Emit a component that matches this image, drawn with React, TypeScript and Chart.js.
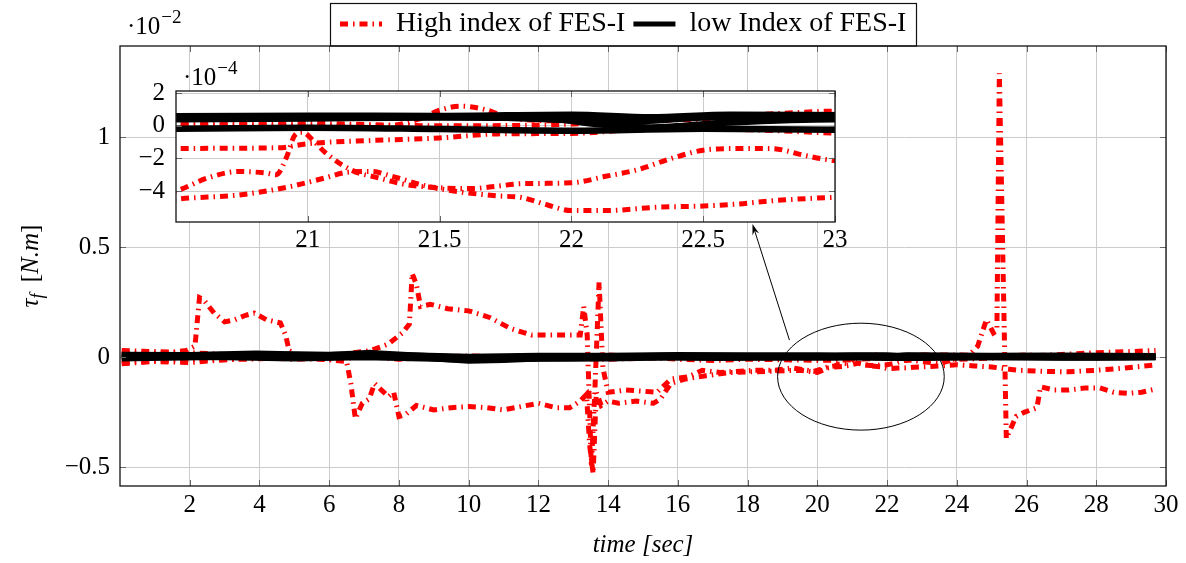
import React, { useEffect, useRef } from 'react';
import { Chart, registerables } from 'chart.js';
Chart.register(...registerables);

// ---------- text / ticks ----------
const FONT = '"Liberation Serif", "Times New Roman", serif';
const LEGEND_LABELS = ['High index of FES-I', 'low Index of FES-I'];
const X_TITLE = 'time [sec]';
const Y_TITLE_PARTS = [
  { t: '\u03c4', italic: true, size: 25, dy: 0 },
  { t: 'f', italic: true, size: 18, dy: 5 },
  { t: '\u2009 [', italic: false, size: 25, dy: 0 },
  { t: 'N.m', italic: true, size: 25, dy: 0 },
  { t: ']', italic: false, size: 25, dy: 0 },
];
const X_TICKS = [2, 4, 6, 8, 10, 12, 14, 16, 18, 20, 22, 24, 26, 28, 30];
const Y_TICKS = [-0.5, 0, 0.5, 1];
const INSET_X_TICKS = [21, 21.5, 22, 22.5, 23];
const INSET_Y_TICKS = [-4, -2, 0, 2];
const MAIN_EXP = -2;
const INSET_EXP = -4;
const INSET_FACTOR = 100; // values are in 10^-2, inset axis in 10^-4

// ---------- data (time [s], tau_f in 10^-2 N.m) ----------
const HIGH_1 = [
  [0.05, 0.02], [0.7, 0.015], [1.4, 0.02], [1.9, 0.03], [2.15, 0.05], [2.28, 0.27], [2.4, 0.26], [2.7, 0.2],
  [3.0, 0.16], [3.3, 0.17], [3.6, 0.19], [3.85, 0.2], [4.2, 0.17], [4.6, 0.155], [4.75, 0.1], [4.85, 0.03],
  [5.1, 0.01], [5.6, 0.005], [6.2, 0.01], [6.7, 0.02], [7.2, 0.03], [7.7, 0.06], [8.1, 0.11], [8.3, 0.15],
  [8.38, 0.38], [8.5, 0.33], [8.62, 0.23], [8.9, 0.24], [9.4, 0.22], [10.0, 0.21], [10.6, 0.18], [11.2, 0.13],
  [11.8, 0.1], [12.4, 0.1], [13.0, 0.1], [13.2, 0.1], [13.3, 0.23], [13.4, 0.1], [13.52, -0.5], [13.62, -0.15],
  [13.74, 0.34], [13.85, -0.05], [14.0, -0.16], [14.5, -0.15], [15.0, -0.155], [15.4, -0.16], [15.8, -0.1],
  [16.3, -0.09], [16.7, -0.06], [17.2, -0.07], [18.2, -0.06], [18.8, -0.06], [19.3, -0.05], [19.9, -0.065],
  [20.3, -0.045], [20.5, -0.04], [20.62, -0.032], [20.74, -0.028], [20.84, -0.029], [20.88, -0.03],
  [20.92, -0.019], [20.95, -0.006], [20.98, -0.004], [21.02, -0.009], [21.07, -0.017], [21.17, -0.0275],
  [21.27, -0.032], [21.37, -0.036], [21.5, -0.038], [21.62, -0.0385], [21.72, -0.037], [21.81, -0.0355],
  [22.0, -0.035], [22.13, -0.031], [22.25, -0.027], [22.38, -0.02], [22.5, -0.015], [22.63, -0.014],
  [22.76, -0.014], [22.88, -0.018], [22.98, -0.021], [23.1, -0.022], [23.5, -0.03], [23.9, -0.012],
  [24.3, 0.0], [24.6, 0.05], [24.85, 0.17], [25.05, 0.11], [25.15, 0.12], [25.22, 1.29], [25.42, -0.37],
  [25.7, -0.27], [25.95, -0.25], [26.3, -0.23], [26.4, -0.135], [26.8, -0.15], [27.2, -0.15], [27.7, -0.14],
  [28.1, -0.14], [28.5, -0.16], [28.9, -0.165], [29.3, -0.16], [29.7, -0.145],
];
const HIGH_2 = [
  [0.05, -0.02], [0.8, -0.02], [1.5, -0.015], [2.2, -0.01], [3.0, -0.012], [4.0, -0.008], [5.0, 0.0],
  [5.8, -0.01], [6.5, -0.02], [6.62, -0.12], [6.75, -0.28], [6.95, -0.21], [7.15, -0.19], [7.3, -0.12],
  [7.5, -0.15], [7.7, -0.18], [7.85, -0.16], [8.0, -0.27], [8.2, -0.26], [8.5, -0.22], [9.0, -0.24],
  [9.5, -0.23], [10.0, -0.225], [10.5, -0.23], [11.0, -0.24], [11.5, -0.225], [12.0, -0.21], [12.5, -0.23],
  [12.9, -0.23], [13.2, -0.2], [13.38, -0.17], [13.47, -0.4], [13.57, -0.53], [13.66, -0.16], [13.8, -0.22],
  [14.0, -0.2], [14.3, -0.21], [14.8, -0.2], [15.3, -0.21], [15.5, -0.19], [15.8, -0.12], [16.2, -0.1],
  [16.8, -0.085], [17.5, -0.07], [18.5, -0.065], [19.5, -0.06], [20.0, -0.07], [20.3, -0.05],
  [20.5, -0.045], [20.74, -0.0424], [20.93, -0.0374], [21.06, -0.0322], [21.15, -0.0285], [21.24, -0.028],
  [21.32, -0.031], [21.45, -0.037], [21.57, -0.0404], [21.72, -0.043], [21.81, -0.044], [21.91, -0.0486],
  [22.0, -0.052], [22.13, -0.052], [22.32, -0.05], [22.5, -0.0492], [22.63, -0.048], [22.76, -0.046],
  [22.98, -0.044], [23.2, -0.043], [23.6, -0.04], [24.0, -0.035], [24.5, -0.04], [25.0, -0.045],
  [25.5, -0.055], [25.8, -0.06], [26.5, -0.065], [27.2, -0.067], [28.0, -0.06], [28.8, -0.05], [29.7, -0.036],
];
const HIGH_3 = [
  [0.05, 0.03], [1.0, 0.025], [2.0, 0.02], [3.0, 0.012], [4.0, 0.005], [5.0, 0.01], [6.0, 0.005], [7.0, 0.01],
  [8.0, 0.0], [9.0, -0.005], [10.0, 0.0], [11.0, -0.01], [12.0, -0.008], [13.0, 0.0], [14.0, 0.01], [15.0, 0.0],
  [16.0, -0.01], [17.0, -0.015], [18.0, -0.01], [19.0, -0.012], [20.0, -0.015], [20.5, -0.0139],
  [20.89, -0.0135], [21.0, -0.011], [21.25, -0.009], [21.5, -0.0075], [21.72, -0.005], [22.0, -0.0047],
  [22.3, -0.002], [22.6, -0.0022], [23.0, -0.0045], [24.0, -0.01], [25.0, -0.005], [26.0, 0.005],
  [27.0, 0.012], [28.0, 0.02], [29.0, 0.025], [29.7, 0.03],
];
const HIGH_4 = [
  [0.05, -0.03], [1.0, -0.02], [2.0, -0.025], [3.0, -0.012], [4.0, -0.002], [5.0, -0.01], [6.0, 0.0],
  [7.0, 0.005], [8.0, -0.01], [9.0, 0.0], [10.0, 0.005], [11.0, 0.0], [12.0, 0.005], [13.0, 0.0], [14.0, 0.0],
  [15.0, 0.005], [16.0, 0.0], [17.0, 0.005], [18.0, 0.0], [19.0, 0.004], [20.0, 0.0], [20.5, 0.0], [21.0, 0.0],
  [21.3, 0.0], [21.42, 0.004], [21.5, 0.0095], [21.58, 0.012], [21.68, 0.0096], [21.76, 0.005], [22.0, 0.003],
  [22.5, 0.004], [23.0, 0.007], [24.0, 0.0], [25.0, 0.0], [26.0, 0.01], [27.0, 0.0], [28.0, 0.005], [29.0, 0.0],
  [29.7, 0.005],
];
const HIGH_5 = [
  [0.05, 0.0], [2.0, 0.01], [4.0, -0.005], [6.0, -0.01], [8.0, 0.01], [10.0, -0.005], [12.0, 0.0],
  [14.0, -0.01], [16.0, 0.0], [18.0, 0.005], [20.0, 0.002], [20.5, 0.002], [21.0, 0.0015], [21.5, 0.0],
  [22.0, 0.001], [22.3, 0.005], [22.6, 0.006], [23.0, 0.009], [24.0, 0.01], [26.0, 0.0], [28.0, 0.01],
  [29.7, 0.0],
];
const LOW_1 = [
  [0.05, 0.008], [2, 0.008], [3.9, 0.015], [6, 0.008], [7.2, 0.018], [8.5, 0.006], [10, -0.004], [12, 0.002],
  [14, 0.002], [16, 0.006], [18, 0.006], [20, 0.006], [20.5, 0.0058], [21, 0.0062], [21.5, 0.006],
  [22, 0.0068], [22.3, 0.0052], [22.6, 0.0068], [23, 0.0064], [24, 0.005], [26, 0.005], [28, 0.003],
  [29.7, 0.003],
];
const LOW_2 = [
  [0.05, -0.005], [2, 0.0], [3.9, 0.006], [6, 0.0], [7.2, 0.008], [8.5, 0.0], [10, -0.016], [11, -0.012],
  [12, -0.005], [14, -0.005], [16, 0.0], [18, 0.002], [20, 0.004], [20.5, 0.004], [21, 0.0045], [21.5, 0.005],
  [21.9, 0.0045], [22.1, 0.001], [22.3, -0.001], [22.6, 0.002], [23, 0.004], [24, 0.0], [26, 0.0],
  [28, -0.002], [29.7, 0.0],
];
const LOW_3 = [
  [0.05, 0.0], [3, 0.0], [5, -0.005], [7, 0.0], [9, -0.006], [10, -0.012], [11, -0.008], [13, -0.005],
  [15, 0.0], [17, -0.003], [19, -0.002], [20.5, -0.0018], [21, -0.0012], [21.5, -0.002], [22, -0.003],
  [22.5, -0.0018], [23, -0.0025], [25, 0.0], [27, -0.002], [29.7, 0.0],
];
const LOW_4 = [
  [0.05, 0.01], [2, 0.008], [4, 0.01], [6, 0.01], [7, 0.012], [8, 0.008], [10, 0.0], [12, 0.005], [14, 0.005],
  [16, 0.008], [18, 0.006], [20, 0.0055], [20.5, 0.0052], [21, 0.0055], [21.5, 0.0058], [22, 0.0035],
  [22.2, 0.0025], [22.5, 0.005], [23, 0.0058], [25, 0.004], [27, 0.006], [29.7, 0.004],
];
const HIGH_SERIES = [HIGH_1, HIGH_2, HIGH_3, HIGH_4, HIGH_5];
const LOW_SERIES = [LOW_1, LOW_2, LOW_3, LOW_4];

// annotations (data coordinates of the main axes)
const ELLIPSE_CENTER = [21.25, -0.089];
const ELLIPSE_RADII = [2.39, 0.243];
const ARROW_FROM = [19.2, 0.077];
const ARROW_TO = [18.14, 0.605];

// ---------- styles ----------
const W = 1186;
const H = 563;
const RED = '#ff0000';
const BLACK = '#000000';
const GRID = '#cccccc';
const DASH = [8, 5, 1.5, 5];
const LEGEND_BOX = { left: 330, top: 3, midY: 24, sample: 42, font: 28 };

const fmt = (v: number) => (v < 0 ? '\u2212' : '') + String(Math.abs(v));

function buildDatasets(factor: number, smooth: boolean) {
  const red = HIGH_SERIES.map((s) => ({
    label: LEGEND_LABELS[0],
    data: s.map(([x, y]) => ({ x, y: y * factor })),
    borderColor: RED,
    backgroundColor: RED,
    borderWidth: 5,
    borderDash: DASH,
    borderCapStyle: 'butt',
    borderJoinStyle: 'miter',
    pointRadius: 0,
    tension: 0,
    cubicInterpolationMode: smooth ? 'monotone' : 'default',
    order: 1,
    clip: 0,
  }));
  const black = LOW_SERIES.map((s) => ({
    label: LEGEND_LABELS[1],
    data: s.map(([x, y]) => ({ x, y: y * factor })),
    borderColor: BLACK,
    backgroundColor: BLACK,
    borderWidth: 6.5,
    borderCapStyle: 'butt',
    borderJoinStyle: 'round',
    pointRadius: 0,
    tension: 0,
    cubicInterpolationMode: smooth ? 'monotone' : 'default',
    order: 0,
    clip: 0,
  }));
  return [...red, ...black];
}

function drawFrame(chart: any, xt: number[], yt: number[]) {
  const { ctx, chartArea: a, scales } = chart;
  ctx.save();
  ctx.strokeStyle = '#666';
  ctx.lineWidth = 1;
  ctx.beginPath();
  for (const t of xt) {
    const px = Math.round(scales.x.getPixelForValue(t)) + 0.5;
    ctx.moveTo(px, a.bottom);
    ctx.lineTo(px, a.bottom - 6);
    ctx.moveTo(px, a.top);
    ctx.lineTo(px, a.top + 6);
  }
  for (const t of yt) {
    const py = Math.round(scales.y.getPixelForValue(t)) + 0.5;
    ctx.moveTo(a.left, py);
    ctx.lineTo(a.left + 6, py);
    ctx.moveTo(a.right, py);
    ctx.lineTo(a.right - 6, py);
  }
  ctx.stroke();
  ctx.strokeStyle = '#111';
  ctx.lineWidth = 1.3;
  ctx.strokeRect(a.left, a.top, a.right - a.left, a.bottom - a.top);
  ctx.restore();
}

function drawExponent(ctx: CanvasRenderingContext2D, x: number, baseY: number, exp: number) {
  ctx.save();
  ctx.fillStyle = '#000';
  ctx.textAlign = 'left';
  ctx.textBaseline = 'alphabetic';
  ctx.font = `25px ${FONT}`;
  const base = '\u00b710';
  ctx.fillText(base, x, baseY);
  const w = ctx.measureText(base).width;
  ctx.font = `19px ${FONT}`;
  ctx.fillText(fmt(exp), x + w + 1, baseY - 11);
  ctx.restore();
}

function drawLegend(chart: any) {
  const { ctx, chartArea: a } = chart;
  const items = [chart.data.datasets[0], chart.data.datasets[HIGH_SERIES.length]];
  ctx.save();
  ctx.font = `${LEGEND_BOX.font}px ${FONT}`;
  ctx.textAlign = 'left';
  ctx.textBaseline = 'middle';
  let x = LEGEND_BOX.left + 10;
  items.forEach((ds: any, i: number) => {
    ctx.save();
    ctx.strokeStyle = ds.borderColor;
    ctx.lineWidth = 5;
    ctx.lineCap = 'butt';
    ctx.setLineDash(ds.borderDash || []);
    ctx.beginPath();
    ctx.moveTo(x, LEGEND_BOX.midY);
    ctx.lineTo(x + LEGEND_BOX.sample, LEGEND_BOX.midY);
    ctx.stroke();
    ctx.restore();
    x += LEGEND_BOX.sample + 14;
    ctx.fillStyle = '#000';
    ctx.fillText(LEGEND_LABELS[i], x, LEGEND_BOX.midY);
    x += ctx.measureText(LEGEND_LABELS[i]).width;
    if (i < items.length - 1) x += 8;
  });
  const right = x + 10;
  ctx.strokeStyle = '#111';
  ctx.lineWidth = 1.2;
  ctx.strokeRect(LEGEND_BOX.left + 0.5, LEGEND_BOX.top + 0.5, Math.round(right - LEGEND_BOX.left), a.top - LEGEND_BOX.top - 0.5);
  ctx.restore();
}

const mainDecor = {
  id: 'mainDecor',
  afterDraw(chart: any) {
    const { ctx, chartArea: a, scales } = chart;
    const xs = scales.x;
    const ys = scales.y;
    drawFrame(chart, X_TICKS, Y_TICKS);
    drawLegend(chart);
    drawExponent(ctx, 127, 34, MAIN_EXP);

    // y title
    ctx.save();
    ctx.translate(30, (a.top + a.bottom) / 2);
    ctx.rotate(-Math.PI / 2);
    ctx.fillStyle = '#000';
    ctx.textBaseline = 'alphabetic';
    ctx.textAlign = 'left';
    let total = 0;
    const widths = Y_TITLE_PARTS.map((p) => {
      ctx.font = `${p.italic ? 'italic ' : ''}${p.size}px ${FONT}`;
      const w = ctx.measureText(p.t).width;
      total += w;
      return w;
    });
    let x = -total / 2;
    Y_TITLE_PARTS.forEach((p, i) => {
      ctx.font = `${p.italic ? 'italic ' : ''}${p.size}px ${FONT}`;
      ctx.fillText(p.t, x, 8 + p.dy);
      x += widths[i];
    });
    ctx.restore();

    // ellipse
    const cx = xs.getPixelForValue(ELLIPSE_CENTER[0]);
    const cy = ys.getPixelForValue(ELLIPSE_CENTER[1]);
    const rx = xs.getPixelForValue(ELLIPSE_CENTER[0] + ELLIPSE_RADII[0]) - cx;
    const ry = cy - ys.getPixelForValue(ELLIPSE_CENTER[1] + ELLIPSE_RADII[1]);
    ctx.save();
    ctx.strokeStyle = '#000';
    ctx.lineWidth = 1;
    ctx.beginPath();
    ctx.ellipse(cx, cy, rx, ry, 0, 0, Math.PI * 2);
    ctx.stroke();

    // arrow
    const sx = xs.getPixelForValue(ARROW_FROM[0]);
    const sy = ys.getPixelForValue(ARROW_FROM[1]);
    const ex = xs.getPixelForValue(ARROW_TO[0]);
    const ey = ys.getPixelForValue(ARROW_TO[1]);
    const len = Math.hypot(ex - sx, ey - sy);
    const dx = (ex - sx) / len;
    const dy = (ey - sy) / len;
    ctx.beginPath();
    ctx.moveTo(sx, sy);
    ctx.lineTo(ex - dx * 6, ey - dy * 6);
    ctx.stroke();
    ctx.beginPath();
    ctx.moveTo(ex, ey);
    ctx.lineTo(ex - dx * 11 - dy * 3.5, ey - dy * 11 + dx * 3.5);
    ctx.lineTo(ex - dx * 7, ey - dy * 7);
    ctx.lineTo(ex - dx * 11 + dy * 3.5, ey - dy * 11 - dx * 3.5);
    ctx.closePath();
    ctx.fillStyle = '#000';
    ctx.fill();
    ctx.restore();
  },
};

const insetDecor = {
  id: 'insetDecor',
  beforeDraw(chart: any) {
    const { ctx, chartArea: a } = chart;
    ctx.save();
    ctx.fillStyle = '#ffffff';
    ctx.fillRect(a.left, a.top, a.right - a.left, a.bottom - a.top);
    ctx.restore();
  },
  afterDraw(chart: any) {
    drawFrame(chart, INSET_X_TICKS, INSET_Y_TICKS);
    drawExponent(chart.ctx, 183, 85, INSET_EXP);
  },
};

const tickFont = { family: FONT, size: 25 };

function mainConfig(): any {
  return {
    type: 'line',
    data: { datasets: buildDatasets(1, false) },
    options: {
      responsive: false,
      animation: false,
      devicePixelRatio: 1,
      events: [],
      layout: { padding: { left: 0, right: 20, top: 46, bottom: 0 } },
      plugins: { tooltip: { enabled: false }, legend: { display: false } },
      scales: {
        x: {
          type: 'linear',
          min: 0,
          max: 30,
          afterBuildTicks: (s: any) => {
            s.ticks = X_TICKS.map((v) => ({ value: v }));
          },
          afterFit: (s: any) => {
            s.height = 77;
          },
          grid: { color: GRID, lineWidth: 1, drawTicks: false },
          border: { display: false },
          ticks: { font: tickFont, color: '#000', padding: 4, autoSkip: false, maxRotation: 0, callback: (v: number) => fmt(v) },
          title: {
            display: true,
            text: X_TITLE,
            color: '#000',
            font: { family: FONT, size: 25, style: 'italic' },
            padding: { top: 0, bottom: 3 },
          },
        },
        y: {
          type: 'linear',
          min: -0.586,
          max: 1.414,
          afterBuildTicks: (s: any) => {
            s.ticks = Y_TICKS.map((v) => ({ value: v }));
          },
          afterFit: (s: any) => {
            s.width = 120;
          },
          grid: { color: GRID, lineWidth: 1, drawTicks: false },
          border: { display: false },
          ticks: { font: tickFont, color: '#000', padding: 10, callback: (v: number) => fmt(v) },
        },
      },
    },
    plugins: [mainDecor],
  };
}

function insetConfig(): any {
  return {
    type: 'line',
    data: { datasets: buildDatasets(INSET_FACTOR, true) },
    options: {
      responsive: false,
      animation: false,
      devicePixelRatio: 1,
      events: [],
      layout: { padding: { left: 0, right: W - 835, top: 91, bottom: 0 } },
      plugins: { tooltip: { enabled: false }, legend: { display: false } },
      scales: {
        x: {
          type: 'linear',
          min: 20.5,
          max: 23,
          afterBuildTicks: (s: any) => {
            s.ticks = INSET_X_TICKS.map((v) => ({ value: v }));
          },
          afterFit: (s: any) => {
            s.height = H - 222;
          },
          grid: { color: GRID, lineWidth: 1, drawTicks: false },
          border: { display: false },
          ticks: { font: tickFont, color: '#000', padding: 3, autoSkip: false, maxRotation: 0, callback: (v: number) => fmt(v) },
        },
        y: {
          type: 'linear',
          min: -5.9,
          max: 2.13,
          afterBuildTicks: (s: any) => {
            s.ticks = INSET_Y_TICKS.map((v) => ({ value: v }));
          },
          afterFit: (s: any) => {
            s.width = 176;
          },
          grid: { color: GRID, lineWidth: 1, drawTicks: false },
          border: { display: false },
          ticks: { font: tickFont, color: '#000', padding: 11, callback: (v: number) => fmt(v) },
        },
      },
    },
    plugins: [insetDecor],
  };
}

export default function App() {
  const mainRef = useRef<HTMLCanvasElement>(null);
  const insetRef = useRef<HTMLCanvasElement>(null);
  useEffect(() => {
    const main = new Chart(mainRef.current as HTMLCanvasElement, mainConfig());
    const inset = new Chart(insetRef.current as HTMLCanvasElement, insetConfig());
    return () => {
      main.destroy();
      inset.destroy();
    };
  }, []);
  return (
    <div style={{ position: 'fixed', left: 0, top: 0, width: W, height: H, background: '#fff' }}>
      <canvas ref={mainRef} width={W} height={H} style={{ position: 'absolute', left: 0, top: 0 }} />
      <canvas ref={insetRef} width={W} height={H} style={{ position: 'absolute', left: 0, top: 0 }} />
    </div>
  );
}
